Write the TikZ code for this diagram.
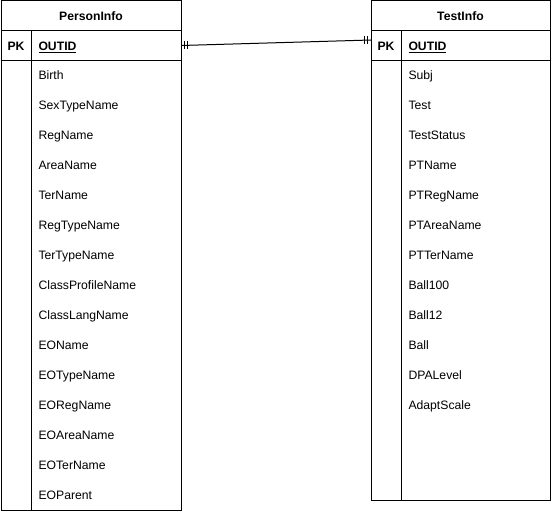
\documentclass[tikz,border=0pt]{standalone}
\usepackage{fontspec}
\setmainfont{Liberation Sans}
\usetikzlibrary{calc}
\begin{document}
\begin{tikzpicture}[x=1pt,y=-1pt,
  line width=1pt,
  tbl/.style={draw=black, fill=white},
  field/.style={anchor=base west, inner sep=0pt, font=\fontsize{12.2}{14}\selectfont},
  title/.style={anchor=base, inner sep=0pt, font=\fontsize{12.2}{14}\selectfont\bfseries},
  pk/.style={anchor=base west, inner sep=0pt, font=\fontsize{12.2}{14}\selectfont\bfseries},
  tick/.style={line width=0.9pt}]
\useasboundingbox (0,0) rectangle (551,511);
% PersonInfo
\draw[tbl] (1,1) rectangle (181,510);
\draw (1,31) -- (181,31);
\draw (1,61) -- (181,61);
\draw (31,31) -- (31,510);
\node[title] (ptitle) at (91,20.5) {PersonInfo};
\node[pk] (ppk) at (7,50.5) {PK};
\node[pk] (pid) at (38,50.5) {\underline{OUTID}};
\foreach \t [count=\i from 0] in {Birth,SexTypeName,RegName,AreaName,TerName,RegTypeName,TerTypeName,ClassProfileName,ClassLangName,EOName,EOTypeName,EORegName,EOAreaName,EOTerName,EOParent}
  \node[field] (pf\i) at (38,79.5+30*\i) {\t};
% TestInfo
\draw[tbl] (371,1) rectangle (550,500);
\draw (371,31) -- (550,31);
\draw (371,61) -- (550,61);
\draw (401,31) -- (401,500);
\node[title] (ttitle) at (460.5,20.5) {TestInfo};
\node[pk] (tpk) at (377,50.5) {PK};
\node[pk] (tid) at (408,50.5) {\underline{OUTID}};
\foreach \t [count=\i from 0] in {Subj,Test,TestStatus,PTName,PTRegName,PTAreaName,PTTerName,Ball100,Ball12,Ball,DPALevel,AdaptScale}
  \node[field] (tf\i) at (408,79.5+30*\i) {\t};
% relation
\coordinate (pl) at (181,45.5);
\coordinate (tr) at (371,40);
\draw (pl) -- (tr);
\draw[tick] ($(pl)+(3.5,-4)$) -- ($(pl)+(3.5,4)$);
\draw[tick] ($(pl)+(6.5,-4)$) -- ($(pl)+(6.5,4)$);
\draw[tick] ($(tr)+(-3.5,-4)$) -- ($(tr)+(-3.5,4)$);
\draw[tick] ($(tr)+(-6.5,-4)$) -- ($(tr)+(-6.5,4)$);
\end{tikzpicture}
\end{document}
